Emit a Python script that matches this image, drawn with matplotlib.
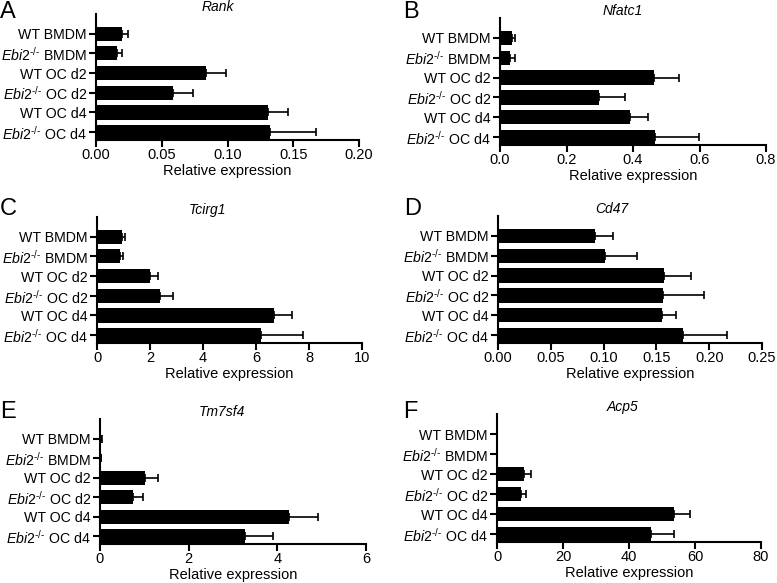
import matplotlib
matplotlib.use('Agg')
import matplotlib.pyplot as plt
import numpy as np

plt.rcParams['font.family'] = ['Liberation Sans', 'DejaVu Sans']
plt.rcParams['mathtext.fontset'] = 'custom'
plt.rcParams['mathtext.rm'] = 'Liberation Sans'
plt.rcParams['mathtext.it'] = 'Liberation Sans:italic'
plt.rcParams['mathtext.bf'] = 'Liberation Sans:bold'

# categories (top to bottom)
grupos = ['WT BMDM', r'$\mathit{Ebi2}^{‐/‐}$ BMDM', 'WT OC d2',
          r'$\mathit{Ebi2}^{‐/‐}$ OC d2', 'WT OC d4', r'$\mathit{Ebi2}^{‐/‐}$ OC d4']

# mean values and upper error (SD) per gene
rank_val = [0.020, 0.0157, 0.0837, 0.0587, 0.131, 0.132]
rank_err = [0.004, 0.0043, 0.0153, 0.0151, 0.015, 0.035]

nfatc1_val = [0.035, 0.031, 0.464, 0.299, 0.390, 0.466]
nfatc1_err = [0.010, 0.013, 0.073, 0.076, 0.054, 0.132]

tcirg1_val = [0.94, 0.88, 1.99, 2.36, 6.67, 6.20]
tcirg1_err = [0.10, 0.09, 0.30, 0.51, 0.69, 1.56]

cd47_val = [0.0915, 0.1016, 0.157, 0.156, 0.155, 0.175]
cd47_err = [0.0175, 0.030, 0.026, 0.039, 0.014, 0.042]

tm7sf4_val = [0.03, 0.02, 1.02, 0.75, 4.26, 3.28]
tm7sf4_err = [0.01, 0.01, 0.28, 0.23, 0.66, 0.62]

acp5_val = [0.1, 0.1, 8.3, 7.4, 53.6, 46.6]
acp5_err = [0.05, 0.05, 1.9, 1.5, 4.9, 6.9]

genes = ['Rank', 'Nfatc1', 'Tcirg1', 'Cd47', 'Tm7sf4', 'Acp5']
letras = ['A', 'B', 'C', 'D', 'E', 'F']
valores = [rank_val, nfatc1_val, tcirg1_val, cd47_val, tm7sf4_val, acp5_val]
errores = [rank_err, nfatc1_err, tcirg1_err, cd47_err, tm7sf4_err, acp5_err]
xticks = [np.arange(0, 0.201, 0.05), np.arange(0, 0.81, 0.2), np.arange(0, 10.1, 2),
          np.arange(0, 0.251, 0.05), np.arange(0, 6.1, 2), np.arange(0, 81, 20)]
formatos = ['{:.2f}', '{:.1f}', '{:.0f}', '{:.2f}', '{:.0f}', '{:.0f}']

# axes boxes in pixels: left, right, top, bottom
W, H = 777, 583
cajas = [(96, 359, 14, 140), (500, 766, 18, 145),
         (97, 362, 217, 343), (498, 762, 216, 343),
         (100, 366, 419, 544), (497, 761, 414, 542)]
titulo_x = [218, 623, 207, 612, 222, 623]
letra_pos = [(0, 18), (403, 18), (0, 215), (404, 215), (0, 418), (403, 418)]

fig = plt.figure(figsize=(W / 100, H / 100), dpi=100)

for i in range(6):
    l, r, t, b = cajas[i]
    ax = fig.add_axes([l / W, 1 - b / H, (r - l) / W, (b - t) / H])
    y = np.arange(len(grupos))
    ax.barh(y, valores[i], height=0.72, color='black')
    ax.errorbar(valores[i], y, xerr=[np.zeros(6), errores[i]], fmt='none',
                ecolor='black', elinewidth=1.2, capsize=3, capthick=1.2)
    ax.set_ylim(5.4, -1.0)
    ax.set_xlim(0, xticks[i][-1])
    ax.set_yticks(y)
    ax.set_yticklabels(grupos, fontsize=10.2)
    ax.set_xticks(xticks[i])
    ax.set_xticklabels([formatos[i].format(v) for v in xticks[i]], fontsize=10.5)
    ax.set_xlabel('Relative expression', fontsize=10.5, labelpad=2)
    for s in ['top', 'right']:
        ax.spines[s].set_visible(False)
    for s in ['left', 'bottom']:
        ax.spines[s].set_linewidth(1.5)
    ax.tick_params(axis='both', direction='out', length=5, width=1.5)
    ax.tick_params(axis='y', pad=1.5)
    ax.tick_params(axis='x', pad=0.5)
    fig.text(titulo_x[i] / W, 1 - (t - 3) / H, genes[i], style='italic',
             fontsize=10, ha='center', va='baseline')
    fig.text(letra_pos[i][0] / W, 1 - letra_pos[i][1] / H, letras[i],
             fontsize=17, ha='left', va='baseline')

fig.savefig('out.png', dpi=100)
